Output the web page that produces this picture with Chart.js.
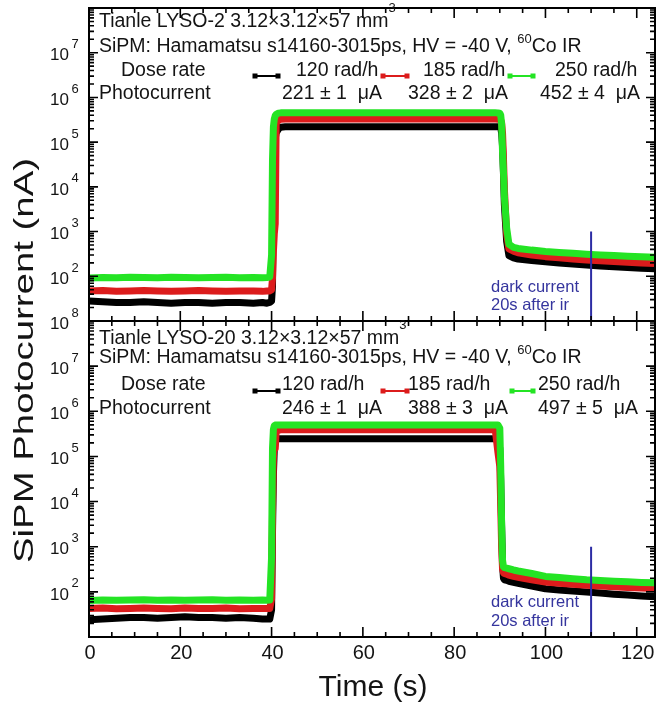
<!DOCTYPE html>
<html>
<head>
<meta charset="utf-8">
<script src="https://cdn.jsdelivr.net/npm/chart.js@4.4.1/dist/chart.umd.min.js"></script>
<style>
body{margin:0;background:#fff}
#wrap{position:relative;width:657px;height:708px}
#wrap canvas{position:absolute;left:0;top:0}
</style>
</head>
<body>
<div id="wrap">
  <canvas id="cTop" width="657" height="708"></canvas>
  <canvas id="cBot" width="657" height="708"></canvas>
</div>
<script>
/* ═══ DATA ═══ */
// time (s), shared by every trace
const T=[0,3,6,9,12,15,18,21,24,27,30,33,36,38,
  39,39.6,40,40.2,40.4,40.6,40.8,41,41.5,42,43,
  44,47,50,53,56,59,62,65,68,71,74,77,80,83,86,88,
  89,89.6,90,90.2,90.4,90.6,90.8,91,91.5,92,93,
  94,97,100,103,106,109,112,115,118,121,124];

const doseRates=['120 rad/h','185 rad/h','250 rad/h'];
const COL=['#000000','#dc1c1c','#24e424'];

// LYSO-2 photocurrent (nA)
const l2Blk=[28,27,26,26,27,26,25,26,26,25,26,26,25,26,
  25,26,28,60,8000,60000,120000,160000,195000,215000,220000,
  221000,221000,221000,221000,221000,221000,221000,221000,221000,221000,221000,221000,221000,221000,221000,221000,
  221000,220000,216000,205000,160000,80000,20000,4000,600,290,258,
  242,225,210,198,188,178,170,163,157,152,148];
const l2Red=[47,48,46,47,48,47,46,47,48,47,46,47,47,46,
  47,47,50,90,350,900,1500,260000,310000,325000,328000,
  328000,328000,328000,328000,328000,328000,328000,328000,328000,328000,328000,328000,328000,328000,328000,328000,
  328000,327000,322000,312000,270000,160000,45000,9000,900,410,365,
  335,300,275,258,245,232,222,213,205,198,192];
const l2Grn=[92,94,93,95,94,93,95,94,93,94,95,93,94,93,
  94,96,300,40000,220000,330000,390000,420000,445000,452000,452000,
  452000,452000,452000,452000,452000,452000,452000,452000,452000,452000,452000,452000,452000,452000,452000,452000,
  452000,451000,445000,400000,250000,60000,22000,6000,1200,520,445,
  420,385,360,342,328,312,300,290,280,272,265];
const l2Cur=[221,328,452], l2Err=[1,2,4];

// LYSO-20 photocurrent (nA)
const l20Blk=[24,25,26,27,27,26,27,28,27,27,26,27,26,25,
  25,25,40,2000,40000,150000,220000,240000,246000,246000,246000,
  246000,246000,246000,246000,246000,246000,246000,246000,246000,246000,246000,246000,246000,246000,246000,246000,
  246000,240000,150000,30000,3000,400,200,185,180,172,163,
  155,135,117,110,104,99,94,89,85,81,78];
const l20Red=[43,44,42,43,44,43,42,44,43,43,44,42,43,43,
  43,43,70,5000,90000,250000,150000,340000,380000,388000,388000,
  388000,388000,388000,388000,388000,388000,388000,388000,388000,388000,388000,388000,388000,388000,388000,388000,
  388000,120000,60000,8000,1000,320,265,255,245,235,220,
  210,185,165,155,147,140,134,129,125,122,119];
const l20Grn=[64,66,65,66,67,65,66,65,66,67,65,66,65,66,
  65,66,600,150000,400000,480000,495000,497000,497000,497000,497000,
  497000,497000,497000,497000,497000,497000,497000,497000,497000,497000,497000,497000,497000,497000,497000,497000,
  497000,495000,420000,60000,3000,500,360,345,335,325,305,
  290,255,220,208,196,185,178,172,167,162,159];
const l20Cur=[246,388,497], l20Err=[1,3,5];

// dark-current read-out line, 20 s after irradiation
const markT=[110,110], markI=[1000,10];

const xTicks=[0,20,40,60,80,100,120];

/* ═══ DRAW HELPERS ═══ */
const FF='"Liberation Sans", Arial, Helvetica, sans-serif';
const INK='#141414', BLUE='#2c2ca4', FS=19.5;

function txt(ctx,s,x,y,size,align){
  ctx.font=`${size}px ${FF}`;
  ctx.textAlign=align||'left'; ctx.textBaseline='middle';
  ctx.fillText(s,x,y);
}
function rich(ctx,x,y,parts){
  parts.forEach(([s,size,dy])=>{txt(ctx,s,x,y+(dy||0),size); x+=ctx.measureText(s).width;});
}
function legMark(ctx,x0,x1,y,c){
  ctx.strokeStyle=c; ctx.fillStyle=c; ctx.lineWidth=2;
  ctx.beginPath(); ctx.moveTo(x0,y); ctx.lineTo(x1,y); ctx.stroke();
  ctx.fillRect(x0-2.5,y-2.5,5,5); ctx.fillRect(x1-2.5,y-2.5,5,5);
}

function frameTicks(ch){
  const {ctx,chartArea:a,scales:{x,y}}=ch;
  ctx.strokeStyle='#000'; ctx.lineWidth=2;
  ctx.strokeRect(a.left,a.top,a.right-a.left,a.bottom-a.top);
  ctx.lineWidth=1.6; ctx.beginPath();
  for(let v=0;v<=x.max;v+=5){
    const px=x.getPixelForValue(v), L=v%20?5:10;
    ctx.moveTo(px,a.bottom); ctx.lineTo(px,a.bottom-L);
    ctx.moveTo(px,a.top); ctx.lineTo(px,a.top+L);
  }
  for(let e=1;e<8;e++) for(let k=1;k<10;k++){
    const py=y.getPixelForValue(k*10**e), L=k==1?9:5;
    ctx.moveTo(a.left,py); ctx.lineTo(a.left+L,py);
    ctx.moveTo(a.right,py); ctx.lineTo(a.right-L,py);
  }
  ctx.stroke();
}

/* ═══ PANEL ═══ */
function panelPlug(P){
  return {id:'panel'+P.id, afterDraw(ch){
    const {ctx,scales:{x,y}}=ch;
    ctx.save();
    frameTicks(ch);
    ctx.fillStyle=INK;
    P.yLab.forEach(e=>{
      const py=y.getPixelForValue(10**e);
      txt(ctx,'10',69,py+3,17,'right'); txt(ctx,String(e),71.5,py-8,13);
    });
    const [r1,r2,r3,r4]=P.rows;
    rich(ctx,99,r1,[[P.title,FS],['3',13,-14]]);
    rich(ctx,99,r2,[['SiPM: Hamamatsu s14160-3015ps, HV = -40 V, ',FS],['60',13,-8],['Co IR',FS]]);
    txt(ctx,'Dose rate',121,r3,FS);
    txt(ctx,'Photocurrent',99,r4,FS);
    doseRates.forEach((d,i)=>{
      legMark(ctx,P.mark[i][0],P.mark[i][1],P.markY,COL[i]);
      ctx.fillStyle=INK;
      txt(ctx,d,P.doseX[i],r3,FS);
      txt(ctx,`${P.cur[i]} ± ${P.err[i]}  μA`,P.curX[i],r4,FS);
    });
    ctx.fillStyle='#35359e';
    txt(ctx,'dark current',491,P.dark[0],16.5);
    txt(ctx,'20s after ir',491,P.dark[1],16.5);
    if(P.axes){
      ctx.fillStyle=INK;
      xTicks.forEach(v=>txt(ctx,String(v),x.getPixelForValue(v)+1,653,20,'center'));
      txt(ctx,'Time (s)',373,688,30,'center');
      ctx.translate(33,360.5); ctx.rotate(-Math.PI/2);
      ctx.font=`28px ${FF}`;
      const lbl='SiPM Photocurrent (nA)', w=ctx.measureText(lbl).width;
      ctx.scale(405/w,1);
      ctx.textAlign='center'; ctx.textBaseline='alphabetic';
      ctx.fillText(lbl,0,0);
    }
    ctx.restore();
  }};
}

function mkChart(id,series,pad,P){
  const ds=series.map((v,i)=>({
    data:T.map((t,j)=>({x:t,y:v[j]})),
    borderColor:COL[i], borderWidth:7, pointRadius:0, tension:0,
    borderJoinStyle:'round', order:3-i, clip:0
  }));
  ds.push({data:markT.map((t,j)=>({x:t,y:markI[j]})),borderColor:BLUE,borderWidth:2,pointRadius:0,order:0,clip:0});
  return new Chart(document.getElementById(id),{
    type:'line',
    data:{datasets:ds},
    options:{
      responsive:false, animation:false, events:[],
      layout:{padding:pad},
      plugins:{legend:{display:false},tooltip:{enabled:false}},
      scales:{
        x:{type:'linear',min:0,max:124,display:false},
        y:{type:'logarithmic',min:10,max:1e8,display:false}
      }
    },
    plugins:[panelPlug(P)]
  });
}

mkChart('cTop',[l2Blk,l2Red,l2Grn],{left:89,right:2,top:8,bottom:387},{
  id:'Top', title:'Tianle LYSO-2 3.12×3.12×57 mm', yLab:[2,3,4,5,6,7],
  rows:[22,47,71,94], markY:76, mark:[[255,278],[383,407],[510,533]],
  doseX:[296,423,555], curX:[282,408,540], cur:l2Cur, err:l2Err, dark:[287,305]
});
mkChart('cBot',[l20Blk,l20Red,l20Grn],{left:89,right:2,top:321,bottom:71},{
  id:'Bot', title:'Tianle LYSO-20 3.12×3.12×57 mm', yLab:[2,3,4,5,6,7,8],
  rows:[339,358,385,409], markY:391, mark:[[255,278],[383,407],[512,533]],
  doseX:[282,408,538], curX:[282,408,538], cur:l20Cur, err:l20Err, dark:[602,621], axes:true
});
</script>
</body>
</html>
